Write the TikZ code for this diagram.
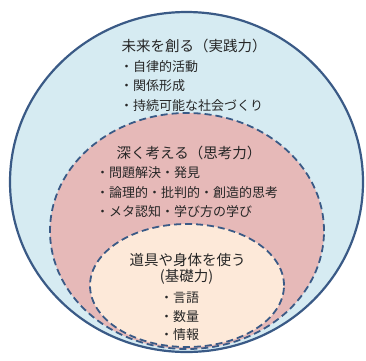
\documentclass[tikz,border=0pt]{standalone}
\usepackage{fontspec}
\setmainfont{Noto Sans CJK JP}
\definecolor{ringblue}{HTML}{3A5A86}
\definecolor{skyfill}{HTML}{D6EBF2}
\definecolor{rosefill}{HTML}{E6B9B8}
\definecolor{peachfill}{HTML}{FDE9D9}
\definecolor{inktext}{HTML}{262626}
\begin{document}
\begin{tikzpicture}[x=1pt,y=-1pt,
    ring/.style={draw=ringblue,line width=1.8pt,dash pattern=on 7pt off 4pt},
    head/.style={inner sep=0pt,text=inktext,font=\fontsize{14.5}{16}\selectfont},
    item/.style={inner sep=0pt,anchor=west,text=inktext,font=\fontsize{13}{15}\selectfont}]
        \useasboundingbox (0,0) rectangle (366,360);
        \fill[white] (0,0) rectangle (366,360);

        \draw[fill=skyfill,draw=ringblue,line width=2.2pt] (186.5,182) ellipse [x radius=176.5pt, y radius=170pt];
        \draw[ring,fill=rosefill] (187,231) ellipse [x radius=137pt, y radius=118pt];
        \draw[ring,fill=peachfill] (187,285.5) ellipse [x radius=97pt, y radius=61.5pt];

        \node[head] (outerhead) at (194,46) {未来を創る（実践力）};
        \node[item] (outerA) at (120,67) {・自律的活動};
        \node[item] (outerB) at (120,86) {・関係形成};
        \node[item] (outerC) at (120,106) {・持続可能な社会づくり};

        \node[head] (midhead) at (189,153) {深く考える（思考力）};
        \node[item] (midA) at (96,173) {・問題解決・発見};
        \node[item] (midB) at (96,193) {・論理的・批判的・創造的思考};
        \node[item] (midC) at (96,212) {・メタ認知・学び方の学び};

        \node[head] (innerhead) at (187.5,260) {道具や身体を使う};
        \node[head] (innersub) at (186.5,277) {(基礎力)};
        \node[item] (innerA) at (160,298) {・言語};
        \node[item] (innerB) at (160,317) {・数量};
        \node[item] (innerC) at (160,335) {・情報};
\end{tikzpicture}
\end{document}
